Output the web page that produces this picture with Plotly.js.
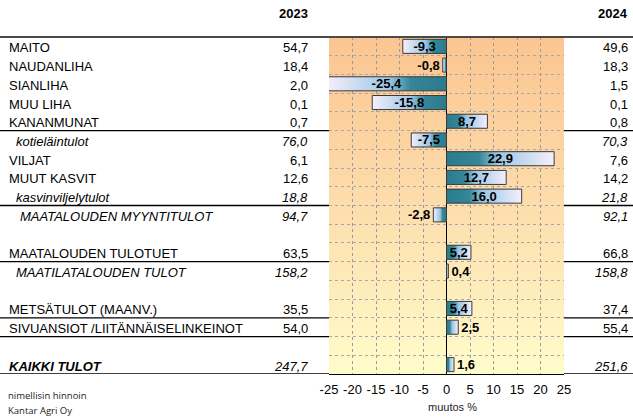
<!DOCTYPE html>
<html>
<head>
<meta charset="utf-8">
<script src="https://cdn.plot.ly/plotly-3.0.1.min.js"></script>
<style>
  html, body { margin: 0; padding: 0; background: #fff; }
  #chart { width: 633px; height: 417px; }
</style>
</head>
<body>
<svg width="0" height="0" style="position:absolute">
  <defs>
    <linearGradient id="barPos" x1="0" y1="0" x2="1" y2="0">
      <stop offset="0" stop-color="#2B7B8E"/>
      <stop offset="0.3" stop-color="#348699"/>
      <stop offset="0.48" stop-color="#9CC6E6"/>
      <stop offset="1" stop-color="#F5EFFB"/>
    </linearGradient>
    <linearGradient id="barNeg" x1="1" y1="0" x2="0" y2="0">
      <stop offset="0" stop-color="#2B7B8E"/>
      <stop offset="0.3" stop-color="#348699"/>
      <stop offset="0.48" stop-color="#9CC6E6"/>
      <stop offset="1" stop-color="#F5EFFB"/>
    </linearGradient>
  </defs>
</svg>
<div id="chart"></div>
<script>
// ---------------- DATA ----------------
const rows = ["MAITO","NAUDANLIHA","SIANLIHA","MUU LIHA","KANANMUNAT","kotieläintulot","VILJAT","MUUT KASVIT","kasvinviljelytulot","MAATALOUDEN MYYNTITULOT","","MAATALOUDEN TULOTUET","MAATILATALOUDEN TULOT","","METSÄTULOT (MAANV.)","SIVUANSIOT /LIITÄNNÄISELINKEINOT","","KAIKKI TULOT"];
const v2023 = [54.7,18.4,2.0,0.1,0.7,76.0,6.1,12.6,18.8,94.7,null,63.5,158.2,null,35.5,54.0,null,247.7];
const v2024 = [49.6,18.3,1.5,0.1,0.8,70.3,7.6,14.2,21.8,92.1,null,66.8,158.8,null,37.4,55.4,null,251.6];
const change = [-9.3,-0.8,-25.4,-15.8,8.7,-7.5,22.9,12.7,16.0,-2.8,null,5.2,0.4,null,5.4,2.5,null,1.6];
const yearLabels = ["2023","2024"];
const xTicks = [-25,-20,-15,-10,-5,0,5,10,15,20,25];
const axisTitle = "muutos %";
const footnotes = ["nimellisin hinnoin","Kantar Agri Oy"];
// row styles: n = normal, s = italic subtotal, t = italic total, g = bold italic grand total
const rowStyle = ["n","n","n","n","n","s","n","n","s","t","","n","s","","n","n","","g"];
const lineAfter = [4,8,11,14,15,17];

// ---------------- LAYOUT HELPERS ----------------
const W = 633, H = 417, L = 329, R = 564, T = 37, B = 374;
const px = p => (p - L) / (R - L);
const py = p => (B - p) / (B - T);
const FONT = "Liberation Sans, Arial, sans-serif";
const fmt = v => v.toFixed(1).replace('.', ',');
const rowIds = rows.map((r, i) => r === "" ? "blank" + i : r);

const indent = {n: 7, s: 14, t: 18, g: 7};
const annotations = [];
rows.forEach((r, i) => {
  if (r === "") return;
  const st = rowStyle[i];
  const italic = st !== "n";
  const bold = st === "g";
  annotations.push({
    xref: 'paper', yref: 'y', x: px(indent[st]), y: rowIds[i], yshift: -1.5,
    xanchor: 'left', yanchor: 'middle', showarrow: false, text: r,
    font: {family: FONT, size: 13, color: '#000', style: italic ? 'italic' : 'normal', weight: bold ? 'bold' : 'normal'}
  });
  [[v2023, 310], [v2024, 630]].forEach(([arr, xr]) => {
    annotations.push({
      xref: 'paper', yref: 'y', x: px(xr), y: rowIds[i], yshift: -1.5,
      xanchor: 'right', yanchor: 'middle', showarrow: false, text: fmt(arr[i]),
      font: {family: FONT, size: 13, color: '#000', style: italic ? 'italic' : 'normal'}
    });
  });
});
[[yearLabels[0], 310], [yearLabels[1], 630]].forEach(([t, xr]) => {
  annotations.push({xref: 'paper', yref: 'paper', x: px(xr), y: py(13.5), xanchor: 'right', yanchor: 'middle',
    showarrow: false, text: t, font: {family: FONT, size: 13, color: '#000', weight: 'bold'}});
});
annotations.push({xref: 'paper', yref: 'paper', x: px(452.5), y: py(407), xanchor: 'center', yanchor: 'middle',
  showarrow: false, text: axisTitle, font: {family: FONT, size: 11, color: '#222'}});
footnotes.forEach((t, k) => {
  annotations.push({xref: 'paper', yref: 'paper', x: px(6), y: py(395.5 + k * 15.5), xanchor: 'left', yanchor: 'middle',
    showarrow: false, text: t, font: {family: "Open Sans, sans-serif", size: 9.5, color: '#222'}});
});

const shapes = [];
lineAfter.forEach(idx => {
  [[px(0), 0], [1, px(W)]].forEach(([a, b]) => {
    shapes.push({type: 'line', xref: 'paper', yref: 'y', x0: a, x1: b, y0: idx + 0.5, y1: idx + 0.5,
      line: {color: '#000', width: 1.3}});
  });
});
shapes.push({type: 'line', xref: 'paper', yref: 'paper', x0: px(0), x1: px(W), y0: 1, y1: 1,
  line: {color: '#4a4a4a', width: 2}});

const bgSvg = "<svg xmlns='http://www.w3.org/2000/svg' width='100' height='100' preserveAspectRatio='none'>" +
  "<defs><linearGradient id='g' x1='0' y1='0' x2='0' y2='1'>" +
  "<stop offset='0' stop-color='#FBC590'/><stop offset='0.5' stop-color='#FDDDAC'/><stop offset='1' stop-color='#FFFCCB'/>" +
  "</linearGradient></defs><rect width='100' height='100' fill='url(#g)'/></svg>";

const trace = {
  type: 'bar', orientation: 'h',
  x: change, y: rowIds,
  width: 0.75,
  marker: {color: '#5FA3BE', line: {color: '#3a3a3a', width: 1}},
  text: change.map(v => v === null ? '' : fmt(v)),
  textposition: 'auto',
  insidetextanchor: 'middle',
  constraintext: 'none',
  textfont: {family: FONT, size: 13, color: '#000', weight: 'bold'},
  insidetextfont: {family: FONT, size: 13, color: '#000', weight: 'bold'},
  outsidetextfont: {family: FONT, size: 13, color: '#000', weight: 'bold'},
  hoverinfo: 'skip',
  cliponaxis: true
};

const layout = {
  width: W, height: H,
  margin: {l: L, r: W - R, t: T, b: H - B, pad: 0},
  paper_bgcolor: '#fff',
  plot_bgcolor: 'rgba(0,0,0,0)',
  showlegend: false,
  bargap: 0.25,
  xaxis: {
    range: [-25, 25], tickmode: 'array', tickvals: xTicks, ticktext: xTicks.map(String),
    showgrid: true, gridcolor: '#9a9a9a', griddash: 'dot', gridwidth: 1,
    zeroline: true, zerolinecolor: '#000', zerolinewidth: 1,
    showline: true, linecolor: '#000', linewidth: 1.3, ticks: '', ticklabelstandoff: 3,
    tickfont: {family: FONT, size: 13, color: '#000'}, fixedrange: true
  },
  yaxis: {
    type: 'category', categoryorder: 'array', categoryarray: rowIds,
    range: [rowIds.length - 0.5, -0.5],
    showticklabels: false, ticks: '', tickson: 'boundaries',
    showgrid: true, gridcolor: '#a8a8a8', griddash: 'dot', gridwidth: 1,
    zeroline: false, showline: false, fixedrange: true
  },
  images: [{
    source: 'data:image/svg+xml;charset=utf-8,' + encodeURIComponent(bgSvg),
    xref: 'paper', yref: 'paper', x: 0, y: 1, sizex: 1, sizey: 1,
    xanchor: 'left', yanchor: 'top', sizing: 'stretch', layer: 'below'
  }],
  shapes: shapes,
  annotations: annotations
};

Plotly.newPlot('chart', [trace], layout, {staticPlot: true, displayModeBar: false}).then(gd => {
  gd.querySelectorAll('.barlayer .point').forEach(pt => {
    const d = pt.__data__;
    const path = pt.querySelector('path');
    if (!d || !path) return;
    path.style.fill = d.s < 0 ? 'url(#barNeg)' : 'url(#barPos)';
  });
});
</script>
</body>
</html>
